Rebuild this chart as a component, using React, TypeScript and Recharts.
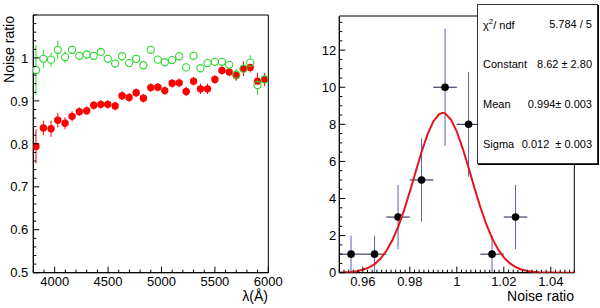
import React from 'react';
import { ScatterChart, Scatter, XAxis, YAxis, ErrorBar, ReferenceArea } from 'recharts';

const FONT = '"Liberation Sans", Arial, Helvetica, sans-serif';

// ---------- Left panel: noise ratio vs wavelength ----------
const wavelengths = [3825, 3894, 3966, 4029, 4097, 4163, 4231, 4300, 4366, 4432, 4497, 4566, 4631, 4697, 4763, 4831, 4900, 4966, 5031, 5100, 5166, 5231, 5300, 5365, 5431, 5500, 5566, 5634, 5700, 5768, 5831, 5899, 5965];
const ratioRed = [0.794, 0.837, 0.835, 0.855, 0.848, 0.864, 0.875, 0.877, 0.890, 0.892, 0.892, 0.888, 0.912, 0.908, 0.919, 0.906, 0.931, 0.932, 0.924, 0.941, 0.942, 0.922, 0.946, 0.928, 0.928, 0.950, 0.971, 0.967, 0.959, 0.975, 0.978, 0.946, 0.950];
const errRed = [0.040, 0.017, 0.019, 0.017, 0.014, 0.012, 0.010, 0.010, 0.010, 0.010, 0.010, 0.010, 0.010, 0.010, 0.010, 0.010, 0.010, 0.010, 0.010, 0.010, 0.010, 0.011, 0.010, 0.012, 0.012, 0.010, 0.010, 0.010, 0.012, 0.017, 0.012, 0.019, 0.015];
const ratioGreen = [0.972, 0.998, 0.996, 1.019, 1.002, 1.019, 1.005, 1.008, 1.005, 1.014, 0.998, 0.987, 1.004, 0.988, 0.998, 0.983, 1.019, 0.996, 0.990, 0.995, 1.004, 0.978, 1.005, 0.976, 0.988, 0.991, 0.991, 0.984, 0.961, 0.975, 0.989, 0.937, 0.950];
const errGreen = [0.058, 0.021, 0.017, 0.021, 0.014, 0.010, 0.009, 0.009, 0.009, 0.009, 0.009, 0.009, 0.009, 0.009, 0.009, 0.009, 0.009, 0.009, 0.009, 0.009, 0.009, 0.009, 0.009, 0.009, 0.009, 0.009, 0.009, 0.009, 0.013, 0.013, 0.017, 0.023, 0.015];

const leftXMajor = [4000, 4500, 5000, 5500, 6000];
const leftXLabels = ['4000', '4500', '5000', '5500', '6000'];
const leftYMajor = [0.5, 0.6, 0.7, 0.8, 0.9, 1.0];
const leftYLabels = ['0.5', '0.6', '0.7', '0.8', '0.9', '1'];
const LEFT_X_DOMAIN: [number, number] = [3800, 6000];
const LEFT_Y_DOMAIN: [number, number] = [0.5, 1.1];

// ---------- Right panel: histogram of noise ratio with Gaussian fit ----------
const binCenters = [0.955, 0.965, 0.975, 0.985, 0.995, 1.005, 1.015, 1.025];
const binCounts = [1, 1, 3, 5, 10, 8, 1, 3];
const binErrors = [1, 1, 1.73, 2.24, 3.16, 2.83, 1, 1.73];
const binHalfWidth = [0.005, 0.005, 0.005, 0.005, 0.005, 0.005, 0.005, 0.005];

const fitX = [0.95, 0.9525, 0.955, 0.9575, 0.96, 0.9625, 0.965, 0.9675, 0.97, 0.9725, 0.975, 0.9775, 0.98, 0.9825, 0.985, 0.9875, 0.99, 0.9925, 0.994, 0.995, 0.9975, 1.0, 1.0025, 1.005, 1.0075, 1.01, 1.0125, 1.015, 1.0175, 1.02, 1.0225, 1.025, 1.0275, 1.03, 1.0325, 1.035, 1.0375, 1.04, 1.045, 1.05];
const fitY = [0.010, 0.022, 0.044, 0.084, 0.156, 0.275, 0.465, 0.753, 1.167, 1.732, 2.462, 3.350, 4.364, 5.446, 6.507, 7.444, 8.155, 8.553, 8.620, 8.590, 8.261, 7.607, 6.707, 5.664, 4.578, 3.544, 2.627, 1.864, 1.267, 0.824, 0.514, 0.306, 0.175, 0.096, 0.050, 0.025, 0.012, 0.006, 0.0001, 0.0];

const rightXMajor = [0.96, 0.98, 1.0, 1.02, 1.04];
const rightXLabels = ['0.96', '0.98', '1', '1.02', '1.04'];
const rightYMajor = [0, 2, 4, 6, 8, 10, 12];
const rightYLabels = ['0', '2', '4', '6', '8', '10', '12'];
const RIGHT_X_DOMAIN: [number, number] = [0.95, 1.05];
const RIGHT_Y_DOMAIN: [number, number] = [0, 13.84];

const statRows = [
  { label: 'chi', value: '5.784 / 5' },
  { label: 'Constant', value: '8.62 \u00b1 2.80' },
  { label: 'Mean', value: '0.994\u00b1 0.003' },
  { label: 'Sigma', value: '0.012  \u00b1 0.003' },
];

// ---------- helpers ----------
const tickRange = (a: number, b: number, step: number, digits: number) => {
  const out: number[] = [];
  const n = Math.round((b - a) / step);
  for (let i = 0; i <= n; i++) out.push(parseFloat((a + i * step).toFixed(digits)));
  return out;
};
const isSame = (a: number, b: number) => Math.abs(a - b) < 1e-7 * Math.max(1, Math.abs(a));

const makeXTick = (majors: number[], labels: string[]) => (props: any) => {
  const { x, y, payload } = props;
  const idx = majors.findIndex((m) => isSame(m, payload.value));
  const major = idx >= 0;
  return (
    <g>
      <line x1={x} x2={x} y1={y} y2={y - (major ? 6 : 3)} stroke="#000" strokeWidth={1} />
      {major && (
        <text x={x} y={y + 13.5} textAnchor="middle" fontSize={13} fontFamily={FONT} fill="#000">
          {labels[idx]}
        </text>
      )}
    </g>
  );
};
const makeYTick = (majors: number[], labels: string[], gap: number) => (props: any) => {
  const { x, y, payload } = props;
  const idx = majors.findIndex((m) => isSame(m, payload.value));
  const major = idx >= 0;
  return (
    <g>
      <line x1={x} x2={x + (major ? 6 : 3)} y1={y} y2={y} stroke="#000" strokeWidth={1} />
      {major && (
        <text x={x - gap} y={y} dy="0.36em" textAnchor="end" fontSize={13} fontFamily={FONT} fill="#000">
          {labels[idx]}
        </text>
      )}
    </g>
  );
};

const leftXTicks = tickRange(3800, 6000, 100, 0);
const leftYTicks = tickRange(0.5, 1.1, 0.02, 2);
const rightXTicks = tickRange(0.95, 1.05, 0.002, 3);
const rightYTicks = tickRange(0, 13.5, 0.5, 1);

const LeftXTick = makeXTick(leftXMajor, leftXLabels);
const LeftYTick = makeYTick(leftYMajor, leftYLabels, 5);
const RightXTick = makeXTick(rightXMajor, rightXLabels);
const RightYTick = makeYTick(rightYMajor, rightYLabels, 3);

const redRows = wavelengths.map((x, i) => ({ x, y: ratioRed[i], e: errRed[i] }));
const greenRows = wavelengths.map((x, i) => ({ x, y: ratioGreen[i], e: errGreen[i] }));
const histRows = binCenters.map((x, i) => ({ x, y: binCounts[i], ey: binErrors[i], ex: binHalfWidth[i] }));
const fitRows = fitX.map((x, i) => ({ x, y: fitY[i] }));

const GREEN = '#2fd82f';
const RedDot = (p: any) => <circle cx={p.cx} cy={p.cy} r={3.7} fill="#ff0000" />;
const GreenMask = (p: any) => <circle cx={p.cx} cy={p.cy} r={3.5} fill="#fff" />;
const GreenRing = (p: any) => <circle cx={p.cx} cy={p.cy} r={3.6} fill="none" stroke={GREEN} strokeWidth={1.1} />;
const BlackDot = (p: any) => <circle cx={p.cx} cy={p.cy} r={3.8} fill="#000" />;
const NoShape = () => <g />;

export default function App() {
  return (
    <div style={{ position: 'absolute', left: 0, top: 0, width: 600, height: 308, background: '#fff', overflow: 'hidden' }}>
      <div style={{ position: 'absolute', left: 0, top: 0 }}>
        <ScatterChart width={300} height={308} margin={{ top: 15, right: 31.7, bottom: 0, left: 0 }}>
          <XAxis type="number" dataKey="x" domain={LEFT_X_DOMAIN} allowDataOverflow ticks={leftXTicks} interval={0}
            tickSize={0} tickMargin={0} tickLine={false} tick={LeftXTick} height={35.3} axisLine={{ stroke: '#000' }} />
          <YAxis type="number" dataKey="y" domain={LEFT_Y_DOMAIN} allowDataOverflow ticks={leftYTicks} interval={0}
            tickSize={0} tickMargin={0} tickLine={false} tick={LeftYTick} width={33.3} axisLine={{ stroke: '#000' }} />
          <ReferenceArea x1={LEFT_X_DOMAIN[0]} x2={LEFT_X_DOMAIN[1]} y1={LEFT_Y_DOMAIN[0]} y2={LEFT_Y_DOMAIN[1]}
            fill="none" fillOpacity={0} stroke="#000" strokeWidth={1} ifOverflow="visible" />
          <Scatter data={greenRows} shape={GreenMask} isAnimationActive={false}>
            <ErrorBar dataKey="e" direction="y" width={0} stroke={GREEN} strokeWidth={1} />
          </Scatter>
          <Scatter data={redRows} shape={RedDot} isAnimationActive={false}>
            <ErrorBar dataKey="e" direction="y" width={0} stroke="#ff0000" strokeWidth={1} />
          </Scatter>
          <Scatter data={greenRows} shape={GreenRing} isAnimationActive={false} />
        </ScatterChart>
      </div>
      <div style={{ position: 'absolute', left: 300, top: 0 }}>
        <ScatterChart width={300} height={308} margin={{ top: 16, right: 25.7, bottom: 0, left: 0 }}>
          <XAxis type="number" dataKey="x" domain={RIGHT_X_DOMAIN} allowDataOverflow ticks={rightXTicks} interval={0}
            tickSize={0} tickMargin={0} tickLine={false} tick={RightXTick} height={35.3} axisLine={{ stroke: '#000' }} />
          <YAxis type="number" dataKey="y" domain={RIGHT_Y_DOMAIN} allowDataOverflow ticks={rightYTicks} interval={0}
            tickSize={0} tickMargin={0} tickLine={false} tick={RightYTick} width={39.3} axisLine={{ stroke: '#000' }} />
          <ReferenceArea x1={RIGHT_X_DOMAIN[0]} x2={RIGHT_X_DOMAIN[1]} y1={RIGHT_Y_DOMAIN[0]} y2={RIGHT_Y_DOMAIN[1]}
            fill="none" fillOpacity={0} stroke="#000" strokeWidth={1} ifOverflow="visible" />
          <Scatter data={histRows} shape={BlackDot} isAnimationActive={false}>
            <ErrorBar dataKey="ey" direction="y" width={0} stroke="#5b5fb8" strokeWidth={1} />
            <ErrorBar dataKey="ex" direction="x" width={0} stroke="#1c1c48" strokeWidth={1} />
          </Scatter>
          <Scatter data={fitRows} shape={NoShape} line={{ stroke: '#e8141a', strokeWidth: 2 }} lineType="joint" isAnimationActive={false} />
        </ScatterChart>
      </div>
      <svg width={600} height={308} style={{ position: 'absolute', left: 0, top: 0, pointerEvents: 'none' }}>
        <text transform="rotate(-90)" x={-16} y={14} textAnchor="end" fontSize={14} fontFamily={FONT} fill="#000">Noise ratio</text>
        <text x={268} y={301} textAnchor="end" fontSize={14} fontFamily={FONT} fill="#000">λ(Å)</text>
        <text x={574} y={301} textAnchor="end" fontSize={14} fontFamily={FONT} fill="#000">Noise ratio</text>
      </svg>
      <div style={{ position: 'absolute', left: 477, top: 4, width: 121, height: 160, boxSizing: 'border-box', border: '1px solid #333', boxShadow: '1px 1px 0 #000', background: '#fff', fontFamily: FONT, fontSize: 11, color: '#000' }}>
        {statRows.map((r, i) => (
          <div key={i} style={{ position: 'absolute', left: 0, top: i * 40 - 1, width: 119, height: 40, display: 'flex', alignItems: 'center', justifyContent: 'space-between', paddingLeft: 5, paddingRight: 5, boxSizing: 'border-box', whiteSpace: 'pre' }}>
            <span>{r.label === 'chi' ? (<>χ<sup style={{ fontSize: 8 }}>2</sup>/ ndf</>) : r.label}</span>
            <span>{r.value}</span>
          </div>
        ))}
      </div>
    </div>
  );
}
